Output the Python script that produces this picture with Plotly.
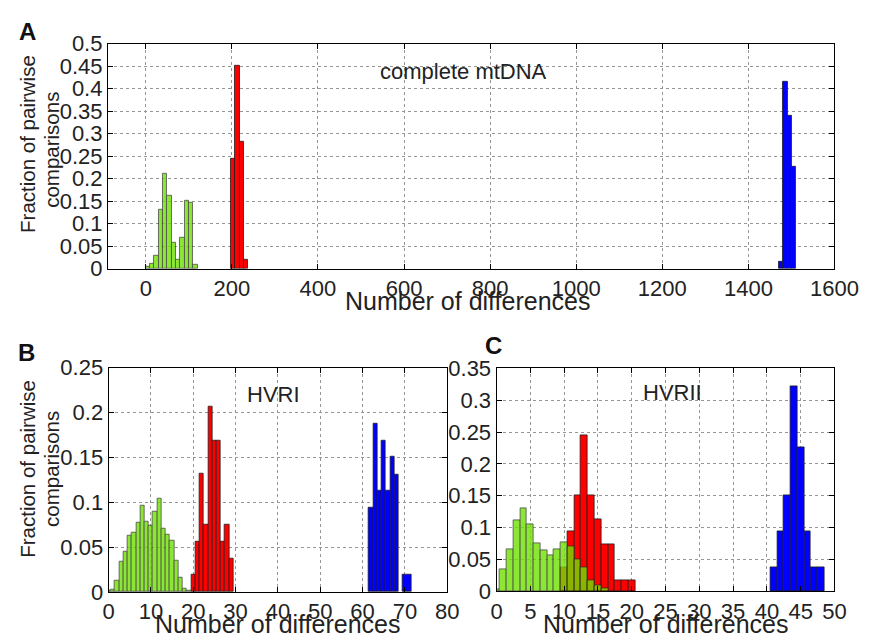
import plotly.graph_objects as go

# ---------------- data ----------------
# Panel A: complete mtDNA (bin width 10)
a_green_x = [5, 15, 25, 35, 45, 55, 65, 75, 85, 95, 105, 115]
a_green_y = [0.004, 0.011, 0.029, 0.131, 0.210, 0.161, 0.057, 0.020, 0.068, 0.151, 0.146, 0.008]
a_red_x = [203, 213, 223, 233]
a_red_y = [0.245, 0.452, 0.283, 0.019]
a_blue_x = [1476, 1486, 1496, 1506]
a_blue_y = [0.016, 0.416, 0.339, 0.226]
a_bin = 10

# Panel B: HVRI (bin width 1)
b_green_x = list(range(0, 20))
b_green_y = [0.001, 0.003, 0.013, 0.034, 0.045, 0.063, 0.066, 0.077, 0.096, 0.078,
             0.074, 0.089, 0.104, 0.071, 0.064, 0.057, 0.035, 0.016, 0.004, 0.001]
b_red_x = list(range(20, 30))
b_red_y = [0.019, 0.056, 0.132, 0.075, 0.207, 0.169, 0.169, 0.056, 0.075, 0.037]
b_blue_x = [62, 63, 64, 65, 66, 67, 68, 70.5]
b_blue_w = [1, 1, 1, 1, 1, 1, 1, 2]
b_blue_y = [0.094, 0.188, 0.113, 0.169, 0.113, 0.151, 0.131, 0.019]

# Panel C: HVRII (bin width 1)
c_green_x = list(range(0, 17))
c_green_y = [0.003, 0.035, 0.066, 0.111, 0.130, 0.105, 0.076, 0.065, 0.056, 0.066,
             0.077, 0.071, 0.050, 0.037, 0.018, 0.010, 0.004]
c_red_x = list(range(10, 21))
c_red_y = [0.037, 0.094, 0.151, 0.245, 0.151, 0.113, 0.074, 0.074, 0.018, 0.018, 0.018]
c_blue_x = list(range(41, 49))
c_blue_y = [0.037, 0.094, 0.150, 0.321, 0.226, 0.094, 0.037, 0.037]

panel_titles = ["complete mtDNA", "HVRI", "HVRII"]
panel_letters = ["A", "B", "C"]
x_label = "Number of differences"
y_label_lines = ["Fraction of pairwise", "comparisons"]

# ---------------- style ----------------
W, H = 872, 644
FONT = "Liberation Sans, Arial, Helvetica, sans-serif"
GREEN = "rgb(110,225,0)"
RED = "rgb(255,0,0)"
BLUE = "rgb(0,0,255)"
EDGE = "rgb(30,30,30)"

def px_x(p):
    return p / W

def px_y(p):
    return 1 - p / H

fig = go.Figure()

def add_bar(x, y, color, xa, ya, width, opacity=1.0):
    fig.add_trace(go.Bar(
        x=x, y=y, width=width, xaxis=xa, yaxis=ya,
        marker=dict(color=color, line=dict(color=EDGE, width=0.8)),
        opacity=opacity, showlegend=False, hoverinfo="x+y"))

# Panel A
add_bar(a_green_x, a_green_y, GREEN, "x", "y", a_bin, 0.8)
add_bar(a_red_x, a_red_y, RED, "x", "y", a_bin)
add_bar(a_blue_x, a_blue_y, BLUE, "x", "y", a_bin)
# Panel B
add_bar(b_red_x, b_red_y, RED, "x2", "y2", 1)
add_bar(b_green_x, b_green_y, GREEN, "x2", "y2", 1, 0.8)
add_bar(b_blue_x, b_blue_y, BLUE, "x2", "y2", b_blue_w)
# Panel C
add_bar(c_red_x, c_red_y, RED, "x3", "y3", 1)
add_bar(c_green_x, c_green_y, GREEN, "x3", "y3", 1, 0.8)
add_bar(c_blue_x, c_blue_y, BLUE, "x3", "y3", 1)

tickfont = dict(family=FONT, size=22, color="#222")

def axis_common(**kw):
    d = dict(showline=True, linecolor="black", linewidth=1, mirror="allticks",
             ticks="inside", ticklen=5, tickcolor="black", tickwidth=1,
             showgrid=True, gridcolor="rgb(150,150,150)", griddash="dot", gridwidth=1,
             zeroline=False, tickfont=tickfont, fixedrange=True)
    d.update(kw)
    return d

# pixel boxes
A_box = (105.5, 858, 33, 267)
B_box = (106.2, 457, 370, 603.3)
C_box = (508, 858, 370.7, 602.7)

def dom(box):
    x0, x1, y0, y1 = box
    return [px_x(x0), px_x(x1)], [px_y(y1), px_y(y0)]

ax, ay = dom(A_box)
bx, by = dom(B_box)
cx, cy = dom(C_box)

fig.update_layout(
    width=W, height=H, margin=dict(l=0, r=0, t=0, b=0),
    paper_bgcolor="white", plot_bgcolor="white",
    barmode="overlay", bargap=0,
    font=dict(family=FONT, color="#222"),
    xaxis=axis_common(domain=ax, anchor="y", range=[-88, 1600], tick0=0, dtick=200),
    yaxis=axis_common(domain=ay, anchor="x", range=[0, 0.5], tick0=0, dtick=0.05),
    xaxis2=axis_common(domain=bx, anchor="y2", range=[0, 80], tick0=0, dtick=10),
    yaxis2=axis_common(domain=by, anchor="x2", range=[0, 0.25], tick0=0, dtick=0.05),
    xaxis3=axis_common(domain=cx, anchor="y3", range=[0, 50], tick0=0, dtick=5),
    yaxis3=axis_common(domain=cy, anchor="x3", range=[0, 0.35], tick0=0, dtick=0.05),
)

ann = []
def text(x, y, s, size, angle=0, color="#222"):
    ann.append(dict(x=px_x(x), y=px_y(y), xref="paper", yref="paper", text=s,
                    showarrow=False, textangle=angle, xanchor="center", yanchor="middle",
                    font=dict(family=FONT, size=size, color=color), align="center"))

# panel letters
text(22, 20, "<b>%s</b>" % panel_letters[0], 24, color="#111")
text(21, 354, "<b>%s</b>" % panel_letters[1], 24, color="#111")
text(505, 347, "<b>%s</b>" % panel_letters[2], 24, color="#111")
# panel titles
text(474, 62, panel_titles[0], 22)
text(277, 398, panel_titles[1], 22)
text(690, 396, panel_titles[2], 22)
# axis labels
text(478, 301, x_label, 25)
text(282, 637, x_label, 25)
text(683, 637, x_label, 25)
# y labels (two lines, rotated)
text(22, 137, y_label_lines[0], 20.5, angle=-90)
text(47, 143, y_label_lines[1], 20.5, angle=-90)
text(22, 475, y_label_lines[0], 20.5, angle=-90)
text(47, 475, y_label_lines[1], 20.5, angle=-90)

fig.update_layout(annotations=ann)

fig.write_html("out.html", config={"displayModeBar": False},
               post_script="document.body.style.margin='0';document.body.style.overflow='hidden';")
